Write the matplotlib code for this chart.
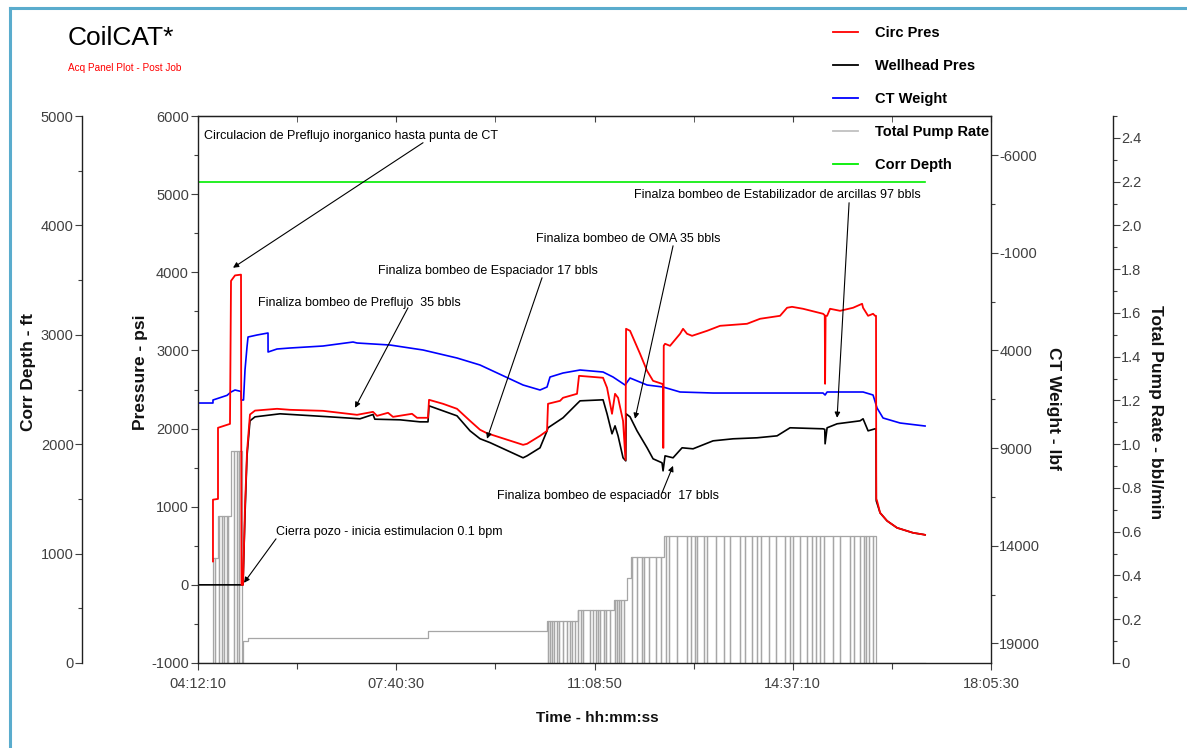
import numpy as np
import matplotlib
matplotlib.use("Agg")
import matplotlib.pyplot as plt
from matplotlib.ticker import FixedLocator, FuncFormatter
from matplotlib.lines import Line2D

plt.rcParams['font.family'] = ['Liberation Sans', 'DejaVu Sans']
plt.rcParams['axes.unicode_minus'] = False

# ---------------- data (time in decimal hours of day) ----------------
circ_t = [4.465, 4.465, 4.553, 4.553, 4.763, 4.781, 4.851, 4.956, 4.965, 4.991, 5.026, 5.061,
          5.113, 5.201, 5.587, 5.814, 6.392, 6.988, 7.268, 7.338, 7.531, 7.618, 7.951, 8.039,
          8.231, 8.249, 8.494, 8.739, 8.967, 9.142, 9.265, 9.896, 9.966, 10.193, 10.316, 10.333,
          10.544, 10.596, 10.841, 10.876, 11.297, 11.367, 11.454, 11.507, 11.560, 11.647, 11.690,
          11.700, 11.770, 11.945, 12.068, 12.173, 12.330, 12.345, 12.348, 12.355, 12.360, 12.383,
          12.470, 12.646, 12.698, 12.768, 12.856, 13.119, 13.346, 13.819, 14.047, 14.397, 14.520,
          14.607, 14.800, 15.150, 15.180, 15.186, 15.195, 15.221, 15.273, 15.448, 15.676, 15.834,
          15.851, 15.939, 16.026, 16.061, 16.078, 16.082, 16.096, 16.149, 16.271, 16.446, 16.726,
          16.902, 16.937]
circ_p = [300, 1090, 1100, 2010, 2060, 3890, 3960, 3970, 0, 0, 1000, 1700,
          2180, 2230, 2253, 2240, 2227, 2176, 2214, 2163, 2202, 2150, 2189, 2138,
          2138, 2368, 2317, 2253, 2099, 1985, 1940, 1792, 1805, 1907, 1971, 2317,
          2355, 2394, 2445, 2675, 2650, 2522, 2189, 2445, 2394, 2099, 1600,
          3277, 3251, 2957, 2739, 2611, 2573, 2560, 1754, 1754, 3060, 3085,
          3059, 3213, 3277, 3213, 3187, 3251, 3315, 3341, 3405, 3443, 3546,
          3558, 3533, 3469, 3450, 2573, 3440, 3443, 3533, 3507, 3546, 3597,
          3546, 3443, 3469, 3443, 3443, 1100, 1075, 922, 819, 730, 666,
          645, 640]

well_t = [4.203, 4.991, 5.026, 5.061, 5.113, 5.201, 5.639, 6.515, 7.040, 7.268, 7.300, 7.741,
          8.091, 8.231, 8.249, 8.494, 8.739, 8.967, 9.142, 9.318, 9.896, 9.966, 10.193, 10.316,
          10.333, 10.596, 10.841, 10.894, 11.297, 11.367, 11.454, 11.507, 11.560, 11.647, 11.695,
          11.700, 11.770, 11.892, 12.068, 12.173, 12.330, 12.348, 12.383, 12.523, 12.681, 12.873,
          13.224, 13.574, 13.994, 14.345, 14.572, 15.150, 15.180, 15.186, 15.221, 15.396, 15.798,
          15.851, 15.939, 16.061, 16.078, 16.082, 16.149, 16.271, 16.446, 16.726, 16.902, 16.937]
well_p = [0, 0, 900, 1650, 2099, 2150, 2189, 2150, 2125, 2180, 2120, 2112,
          2086, 2086, 2291, 2227, 2163, 1971, 1870, 1820, 1626, 1651, 1754, 1971,
          2010, 2138, 2317, 2355, 2368, 2189, 1933, 2035, 1907, 1626, 1587,
          2189, 2150, 1971, 1754, 1613, 1562, 1459, 1651, 1626, 1754, 1741,
          1843, 1869, 1882, 1907, 2010, 1997, 1990, 1805, 2010, 2061, 2099,
          2125, 1971, 1997, 1997, 1075, 922, 819, 730, 666, 645, 640]

wt_t = [4.203, 4.465, 4.465, 4.711, 4.781, 4.851, 4.956, 4.960, 5.000, 5.026, 5.061, 5.079,
        5.236, 5.429, 5.430, 5.587, 5.814, 6.392, 6.918, 6.988, 7.566, 8.144, 8.739, 9.142,
        9.896, 10.193, 10.316, 10.368, 10.596, 10.894, 11.297, 11.472, 11.682, 11.770, 12.068,
        12.348, 12.646, 13.224, 14.397, 15.150, 15.186, 15.221, 15.326, 15.851, 16.026, 16.096,
        16.201, 16.499, 16.937]
wt_lbf = [6692, 6692, 6538, 6300, 6128, 6026, 6100, 6538, 6538, 5000, 3825, 3313,
          3211, 3108, 4081, 3927, 3876, 3774, 3569, 3620, 3723, 3978, 4388, 4746,
          5770, 6026, 5873, 5361, 5156, 5002, 5105, 5361, 5770, 5412, 5770,
          5873, 6128, 6180, 6180, 6180, 6282, 6128, 6128, 6128, 6282, 6947,
          7459, 7715, 7869]

rate_step_t = [4.203, 4.465, 4.553, 4.781, 4.973, 4.991, 5.080, 8.231, 10.316, 10.850,
               11.480, 11.720, 11.780, 12.370, 16.078]
rate_step_v = [0.0, 0.48, 0.67, 0.97, 0.0, 0.10, 0.115, 0.147, 0.19, 0.24,
               0.29, 0.39, 0.485, 0.58, 0.0]
rate_dropouts = [4.500, 4.571, 4.623, 4.658, 4.711, 4.728, 4.833, 4.886, 4.921,
                 10.33, 10.36, 10.40, 10.44, 10.49, 10.53, 10.59, 10.66, 10.72, 10.76, 10.81,
                 10.86, 10.91, 10.95, 11.06, 11.12, 11.17, 11.20, 11.25, 11.31, 11.35, 11.42,
                 11.50, 11.54, 11.58, 11.62, 11.67, 11.81, 11.89, 11.98, 12.02, 12.10, 12.23,
                 12.31, 12.40, 12.46, 12.60, 12.77, 12.84, 12.90, 12.94, 13.07, 13.12, 13.28,
                 13.42, 13.52, 13.69, 13.78, 13.90, 13.99, 14.07, 14.20, 14.32, 14.49, 14.57,
                 14.63, 14.74, 14.87, 14.95, 15.03, 15.10, 15.16, 15.33, 15.45, 15.62, 15.70,
                 15.79, 15.87, 15.91, 15.96, 16.02, 16.07]
rate_end_t = 16.937

depth_t = [4.203, 16.937]
depth_ft = [4400, 4400]

time_ticks = ["04:12:10", "07:40:30", "11:08:50", "14:37:10", "18:05:30"]
pres_ticks = [-1000, 0, 1000, 2000, 3000, 4000, 5000, 6000]
depth_ticks = [0, 1000, 2000, 3000, 4000, 5000]
wt_ticks = [-6000, -1000, 4000, 9000, 14000, 19000]
rate_ticks = [0, 0.2, 0.4, 0.6, 0.8, 1.0, 1.2, 1.4, 1.6, 1.8, 2.0, 2.2, 2.4]

notes = [
    ("Circulacion de Preflujo inorganico hasta punta de CT", (4.308, 5747), (8.144, 5658), (4.816, 4058)),
    ("Finaliza bombeo de Preflujo  35 bbls", (5.254, 3610), (7.881, 3546), (6.953, 2266)),
    ("Finaliza bombeo de Espaciador 17 bbls", (7.356, 4019), (10.228, 3930), (9.265, 1869)),
    ("Finaliza bombeo de OMA 35 bbls", (10.123, 4429), (12.523, 4339), (11.857, 2125)),
    ("Finalza bombeo de Estabilizador de arcillas 97 bbls", (11.840, 4992), (15.606, 4890), (15.396, 2138)),
    ("Finaliza bombeo de espaciador  17 bbls", (9.440, 1139), (12.330, 1178), (12.523, 1523)),
    ("Cierra pozo - inicia estimulacion 0.1 bpm", (5.569, 678), (5.569, 589), (5.008, 26)),
]


def to_hours(s):
    h, m, sec = (int(v) for v in s.split(":"))
    return h + m / 60 + sec / 3600


def hms(v, pos=None):
    s = int(round(v * 3600))
    return f"{s // 3600:02d}:{s % 3600 // 60:02d}:{s % 60:02d}"


def pump_path(step_t, step_v, drops, t_end):
    step_t = np.asarray(step_t)
    step_v = np.asarray(step_v)
    events = sorted([(t, 1) for t in step_t[1:]] + [(t, 0) for t in drops])
    xs, ys = [step_t[0]], [step_v[0]]
    for t, is_step in events:
        lv = step_v[np.searchsorted(step_t, t, side='right') - 1]
        if is_step:
            xs += [t, t]
            ys += [ys[-1], lv]
        else:
            xs += [t, t, t]
            ys += [lv, 0.0, lv]
    xs.append(t_end)
    ys.append(ys[-1])
    return xs, ys


RED = '#ff0000'
BLUE = '#0000ff'
GRAY = '#a6a6a6'
GREEN = '#00ee00'
TICKC = '#404040'

W, H = 1187, 748
fig = plt.figure(figsize=(W / 100, H / 100), dpi=100)
fig.patch.set_facecolor('white')

# page frame
fig.add_artist(Line2D([10 / W, 1.0], [1 - 8 / H, 1 - 8 / H], color='#5aaccd', lw=2.2))
fig.add_artist(Line2D([10 / W, 10 / W], [0, 1 - 8 / H], color='#5aaccd', lw=2.2))

x0, x1 = to_hours(time_ticks[0]), to_hours(time_ticks[-1])

ax = fig.add_axes([198 / W, 85 / H, 793 / W, 547 / H])
ax_w = ax.twinx()
ax_r = ax.twinx()
ax_d = ax.twinx()

for a, z in ((ax_r, 1), (ax_d, 2), (ax_w, 3), (ax, 4)):
    a.set_zorder(z)
    a.patch.set_visible(False)

# pump rate (behind everything)
px, py = pump_path(rate_step_t, rate_step_v, rate_dropouts, rate_end_t)
ax_r.plot(px, py, color=GRAY, lw=0.9)
ax_r.set_ylim(0, 2.5)

# corrected depth
ax_d.plot(depth_t, depth_ft, color=GREEN, lw=1.2)
ax_d.set_ylim(0, 5000)

# CT weight (inverted scale)
ax_w.plot(wt_t, wt_lbf, color=BLUE, lw=1.2)
ax_w.set_ylim(20000, -8000)

# pressures
ax.plot(well_t, well_p, color='black', lw=1.2)
ax.plot(circ_t, circ_p, color=RED, lw=1.3)
ax.set_ylim(-1000, 6000)
ax.set_xlim(x0, x1)

tick_font = dict(labelsize=10.5, labelcolor=TICKC, color=TICKC)

# x axis
ax.xaxis.set_major_locator(FixedLocator([to_hours(s) for s in time_ticks]))
ax.xaxis.set_minor_locator(FixedLocator([(to_hours(a) + to_hours(b)) / 2
                                         for a, b in zip(time_ticks[:-1], time_ticks[1:])]))
ax.xaxis.set_major_formatter(FuncFormatter(hms))
ax.tick_params(axis='x', which='major', length=5, width=0.8, pad=5, **tick_font)
ax.tick_params(axis='x', which='minor', length=4, width=0.8, color=TICKC)
top = ax.secondary_xaxis('top')
top.xaxis.set_major_locator(FixedLocator([to_hours(s) for s in time_ticks]))
top.xaxis.set_minor_locator(FixedLocator([(to_hours(a) + to_hours(b)) / 2
                                          for a, b in zip(time_ticks[:-1], time_ticks[1:])]))
top.tick_params(axis='x', which='both', direction='in', length=4, labeltop=False, color=TICKC)

# pressure axis
ax.yaxis.set_major_locator(FixedLocator(pres_ticks))
ax.yaxis.set_minor_locator(FixedLocator([v + 500 for v in pres_ticks[:-1]]))
ax.tick_params(axis='y', which='major', length=5, width=0.8, pad=1.5, **tick_font)
ax.tick_params(axis='y', which='minor', length=3, width=0.8, color=TICKC)

# CT weight axis on the right spine
ax_w.yaxis.set_major_locator(FixedLocator(wt_ticks))
ax_w.yaxis.set_minor_locator(FixedLocator([v + 2500 for v in [-8500] + wt_ticks]))
ax_w.yaxis.set_major_formatter(FuncFormatter(lambda v, p: f"{int(v)}"))
ax_w.tick_params(axis='y', which='major', length=5, width=0.8, pad=1, **tick_font)
ax_w.tick_params(axis='y', which='minor', length=3, width=0.8, color=TICKC)

# pump rate axis, offset to the right
ax_r.spines['right'].set_position(('axes', (1113 - 198) / 793))
ax_r.yaxis.set_major_locator(FixedLocator(rate_ticks))
ax_r.yaxis.set_minor_locator(FixedLocator([v + 0.1 for v in rate_ticks]))
ax_r.yaxis.set_major_formatter(FuncFormatter(lambda v, p: "0" if v == 0 else f"{v:.1f}"))
ax_r.tick_params(axis='y', which='major', length=5, width=0.8, pad=1, **tick_font)
ax_r.tick_params(axis='y', which='minor', length=3, width=0.8, color=TICKC)

# depth axis, offset to the left
ax_d.yaxis.tick_left()
ax_d.spines['left'].set_position(('axes', (82 - 198) / 793))
ax_d.yaxis.set_major_locator(FixedLocator(depth_ticks))
ax_d.yaxis.set_minor_locator(FixedLocator([v + 500 for v in depth_ticks[:-1]]))
ax_d.tick_params(axis='y', which='major', length=5, width=0.8, pad=1, **tick_font)
ax_d.tick_params(axis='y', which='minor', length=3, width=0.8, color=TICKC)

for a in (ax_w, ax_r, ax_d):
    for s in ('top', 'bottom', 'left', 'right'):
        a.spines[s].set_visible(False)
    a.xaxis.set_visible(False)
ax_r.spines['right'].set_visible(True)
ax_d.spines['left'].set_visible(True)
for a in (ax, ax_r, ax_d):
    for s in a.spines.values():
        s.set_linewidth(1.0)
        s.set_color('#202020')

# axis titles
lab = dict(fontsize=12.5, fontweight='bold', color='#111111')
fig.text(28 / W, 1 - 372 / H, "Corr Depth - ft", rotation=90, ha='center', va='center', **lab)
fig.text(140 / W, 1 - 372 / H, "Pressure - psi", rotation=90, ha='center', va='center', **lab)
fig.text(1053 / W, 1 - 408 / H, "CT Weight - lbf", rotation=270, ha='center', va='center', **lab)
fig.text(1155 / W, 1 - 412 / H, "Total Pump Rate - bbl/min", rotation=270, ha='center', va='center', **lab)
fig.text(597 / W, 1 - 718 / H, "Time - hh:mm:ss", ha='center', va='center',
         fontsize=11, fontweight='bold', color='#111111')

# header
fig.text(68 / W, 1 - 38 / H, "CoilCAT*", fontsize=19, ha='left', va='center', color='black')
fig.text(68 / W, 1 - 68 / H, "Acq Panel Plot - Post Job", fontsize=7.2, ha='left', va='center', color=RED)

# event notes
for text, txy, start, end in notes:
    ax.text(txy[0], txy[1], text, fontsize=9, ha='left', va='center', color='black', zorder=6)
    ax.annotate("", xy=end, xytext=start,
                arrowprops=dict(arrowstyle='-|>', color='black', lw=0.8,
                                mutation_scale=8, shrinkA=0, shrinkB=0), zorder=6)

# legend
handles = [Line2D([], [], color=RED, lw=1.3), Line2D([], [], color='black', lw=1.3),
           Line2D([], [], color=BLUE, lw=1.3), Line2D([], [], color='#c0c0c0', lw=1.3),
           Line2D([], [], color=GREEN, lw=1.3)]
labels = ["Circ Pres", "Wellhead Pres", "CT Weight", "Total Pump Rate", "Corr Depth"]
fig.legend(handles, labels, loc='upper left', bbox_to_anchor=(833 / W, 1 - 26 / H),
           frameon=False, handlelength=1.71, handletextpad=1.2, labelspacing=1.30,
           borderpad=0, borderaxespad=0, prop={'weight': 'bold', 'size': 10.5})

fig.savefig("out.png", dpi=100, facecolor='white')
